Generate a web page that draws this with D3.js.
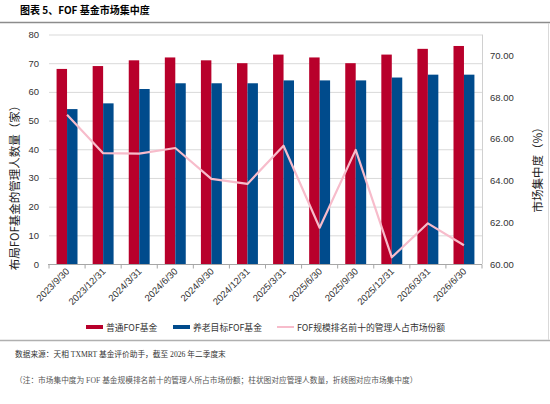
<!DOCTYPE html>
<html><head><meta charset="utf-8">
<script src="https://cdn.jsdelivr.net/npm/d3@7"></script>
<style>
body{margin:0;background:#fff;}
svg{display:block;}
</style></head>
<body>
<svg id="c" width="550" height="404"></svg>
<script>
const categories = ["2023/9/30","2023/12/31","2024/3/31","2024/6/30","2024/9/30","2024/12/31","2025/3/31","2025/6/30","2025/9/30","2025/12/31","2026/3/31","2026/6/30"];
const ordinaryFOF = [68,69,71,72,71,70,73,72,70,73,75,76];
const pensionFOF = [54,56,61,63,63,63,64,64,64,65,66,66];
const top10Share = [67.15,65.31,65.29,65.56,64.08,63.84,65.67,61.74,65.47,60.32,61.95,60.90];
const leftTicks = [0,10,20,30,40,50,60,70,80];
const rightTicks = [60,62,64,66,68,70];
const seriesNames = ["普通FOF基金","养老目标FOF基金","FOF规模排名前十的管理人占市场份额"];

const svg = d3.select("#c");
const L = 49, R = 482, T = 34.5, B = 264;
const sans = "'Liberation Sans', Arial, 'Noto Sans CJK SC', sans-serif";
const cjk = "'Noto Sans CJK SC', 'Liberation Sans', sans-serif";
const RED = "#b8002b", BLUE = "#004b8c", PINK = "#f7bccb";

// frame
svg.append("line").attr("x1",0).attr("x2",550).attr("y1",22.5).attr("y2",22.5).attr("stroke","#8c8c8c").attr("stroke-width",1.5);
svg.append("line").attr("x1",0).attr("x2",550).attr("y1",340.5).attr("y2",340.5).attr("stroke","#b0b0b0").attr("stroke-width",1.5);
svg.append("line").attr("x1",548.5).attr("x2",548.5).attr("y1",23).attr("y2",340).attr("stroke","#d9d9d9").attr("stroke-width",1);

// title
svg.append("text").attr("x",20).attr("y",14).attr("font-family",cjk).attr("font-weight","bold").attr("font-size",10).attr("fill","#000").text("图表 5、FOF 基金市场集中度");

const x0 = d3.scaleBand().domain(categories).range([L,R]).padding(0);
const x1 = d3.scaleBand().domain(["a","b"]).range([x0.bandwidth()*0.21, x0.bandwidth()*0.79]).padding(0);
const yL = d3.scaleLinear().domain([0,80]).range([B,T]);
const yR = d3.scaleLinear().domain([60,71]).range([B,T]);

// gridlines
svg.append("g").selectAll("line").data(leftTicks).join("line")
  .attr("x1",L).attr("x2",R).attr("y1",d=>yL(d)+0.5).attr("y2",d=>yL(d)+0.5)
  .attr("stroke","#d9d9d9").attr("stroke-width",1);
svg.append("line").attr("x1",R+0.5).attr("x2",R+0.5).attr("y1",T).attr("y2",B).attr("stroke","#d0d0d0");

// bars
const g = svg.append("g");
g.selectAll(".r").data(ordinaryFOF).join("rect")
  .attr("x",(d,i)=>x0(categories[i])+x1("a")).attr("width",x1.bandwidth())
  .attr("y",d=>yL(d)).attr("height",d=>B-yL(d)).attr("fill",RED);
g.selectAll(".b").data(pensionFOF).join("rect")
  .attr("x",(d,i)=>x0(categories[i])+x1("b")).attr("width",x1.bandwidth())
  .attr("y",d=>yL(d)).attr("height",d=>B-yL(d)).attr("fill",BLUE);

// line
const line = d3.line().x((d,i)=>x0(categories[i])+x0.bandwidth()/2).y(d=>yR(d));
svg.append("path").datum(top10Share).attr("d",line).attr("fill","none").attr("stroke",PINK).attr("stroke-width",2.2).attr("stroke-linejoin","round");

// x axis
const xa = svg.append("g").attr("transform",`translate(0,${B+0.5})`);
xa.append("line").attr("x1",L-1).attr("x2",R).attr("stroke","#a6a6a6");
const bounds = categories.map(c=>x0(c)).concat([R]);
xa.selectAll(".tk").data(bounds).join("line").attr("x1",d=>d).attr("x2",d=>d).attr("y1",0).attr("y2",4).attr("stroke","#a6a6a6");
svg.append("g").selectAll("text").data(categories).join("text")
  .attr("transform",d=>`translate(${x0(d)+x0.bandwidth()/2+3},${B+8}) rotate(-45)`)
  .attr("text-anchor","end").attr("font-family",sans).attr("font-size",9.5).attr("fill","#333").text(d=>d);

// left ticks
svg.append("g").selectAll("text").data(leftTicks).join("text")
  .attr("x",39).attr("y",d=>yL(d)+3.5).attr("text-anchor","end")
  .attr("font-family",sans).attr("font-size",9.5).attr("fill","#333").text(d=>d);
// right ticks
svg.append("g").selectAll("text").data(rightTicks).join("text")
  .attr("x",490).attr("y",d=>yR(d)+3.5).attr("text-anchor","start")
  .attr("font-family",sans).attr("font-size",9.5).attr("fill","#333").text(d=>d3.format(".2f")(d));

// axis titles
svg.append("text").attr("transform","translate(19,185) rotate(-90)").attr("text-anchor","middle")
  .attr("font-family",cjk).attr("font-size",11.5).attr("fill","#222").text("布局FOF基金的管理人数量（家）");
svg.append("text").attr("transform","translate(542,167) rotate(-90)").attr("text-anchor","middle")
  .attr("font-family",cjk).attr("font-size",11.5).attr("fill","#222").text("市场集中度（%）");

// legend
const leg = [{x:86,c:RED,h:4,t:seriesNames[0]},{x:173,c:BLUE,h:4,t:seriesNames[1]},{x:277,c:PINK,h:2,t:seriesNames[2]}];
const lg = svg.append("g").selectAll("g").data(leg).join("g");
lg.append("rect").attr("x",d=>d.x).attr("y",d=>327-d.h/2).attr("width",17).attr("height",d=>d.h).attr("fill",d=>d.c);
lg.append("text").attr("x",d=>d.x+20).attr("y",330.5).attr("font-family",cjk).attr("font-size",8.8).attr("fill","#333").text(d=>d.t);

// notes
const serif = "'Liberation Serif', 'Noto Sans CJK SC', serif";
svg.append("text").attr("x",15).attr("y",357).attr("font-family",serif).attr("font-size",7.7).attr("fill","#333").text("数据来源：天相 TXMRT 基金评价助手，截至 2026 年二季度末");
svg.append("text").attr("x",15).attr("y",383).attr("font-family",serif).attr("font-size",7.7).attr("fill","#555").text("（注：市场集中度为 FOF 基金规模排名前十的管理人所占市场份额；柱状图对应管理人数量，折线图对应市场集中度）");
</script>
</body></html>
